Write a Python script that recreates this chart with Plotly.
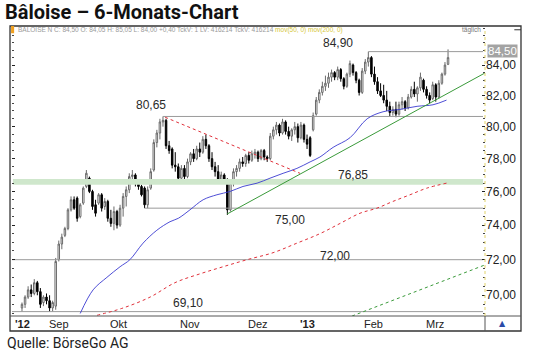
import math
import plotly.graph_objects as go

# ---------------- data ----------------
opens = [69.3, 69.5, 69.9, 70.3, 70.1, 70.7, 70.2, 69.6, 69.9, 69.7,
         69.3, 69.4, 72.0, 72.9, 73.4, 73.8, 74.9, 75.5, 75.6, 74.5,
         75.3, 76.3, 76.8, 76.0, 75.2, 75.3, 75.8, 75.1, 75.4, 74.4,
         74.1, 74.8, 74.0, 75.0, 75.7, 76.1, 76.9, 77.0, 76.5, 76.3,
         76.2, 75.2, 76.2, 77.3, 79.0, 79.6, 80.3, 80.4, 78.8, 78.6,
         77.6, 77.5, 76.8, 77.4, 76.9, 77.8, 78.3, 78.0, 78.6, 78.4,
         79.2, 78.8, 78.0, 77.5, 77.2, 76.7, 77.0, 76.7, 74.9, 76.5,
         77.2, 77.4, 77.8, 77.7, 78.2, 77.9, 78.3, 78.4, 78.0, 78.5,
         78.1, 78.0, 79.4, 79.8, 80.1, 79.6, 80.3, 79.7, 79.4, 79.8,
         80.0, 79.3, 80.1, 79.2, 79.3, 79.8, 80.8, 81.7, 82.2, 82.6,
         82.8, 83.2, 83.5, 83.2, 83.7, 83.1, 82.6, 83.4, 84.0, 83.5,
         83.0, 82.2, 83.6, 84.2, 84.5, 83.4, 82.9, 82.3, 82.0, 81.7,
         81.3, 80.9, 81.1, 80.8, 81.4, 81.6, 81.2, 81.9, 82.4, 82.1,
         82.5, 83.0, 82.4, 82.0, 81.8, 82.7, 81.9, 82.8, 83.4, 84.05]
highs = [69.6, 70.0, 70.5, 70.6, 70.9, 70.8, 70.4, 70.0, 70.1, 70.0,
         69.7, 72.1, 73.1, 73.5, 73.9, 75.0, 75.7, 75.7, 75.7, 75.3,
         76.3, 77.3, 76.9, 76.1, 75.5, 75.9, 75.9, 75.6, 75.5, 74.9,
         75.1, 74.9, 75.2, 75.9, 76.3, 77.1, 77.3, 77.1, 76.7, 76.4,
         76.3, 76.3, 77.4, 79.2, 79.8, 80.5, 80.65, 80.5, 79.1, 78.7,
         78.4, 77.7, 77.6, 77.6, 78.0, 78.4, 78.6, 78.8, 79.0, 79.4,
         79.5, 78.9, 78.4, 77.8, 77.6, 77.2, 77.1, 76.8, 76.7, 77.4,
         77.6, 78.0, 78.1, 78.3, 78.4, 78.5, 78.6, 78.5, 78.6, 78.6,
         78.2, 79.6, 80.0, 80.3, 80.2, 80.5, 80.4, 80.0, 79.9, 80.3,
         80.2, 80.3, 80.2, 79.5, 79.4, 80.9, 81.9, 82.4, 82.9, 83.3,
         83.5, 83.7, 83.6, 83.9, 83.8, 83.2, 83.5, 84.3, 84.1, 83.6,
         83.1, 83.8, 84.4, 84.9, 84.6, 83.9, 83.2, 82.8, 82.7, 82.3,
         81.6, 81.3, 81.6, 81.6, 81.9, 81.7, 82.1, 82.6, 82.9, 82.6,
         83.5, 83.1, 82.6, 82.2, 82.9, 82.8, 83.0, 83.5, 84.2, 85.05]
lows = [69.1, 69.3, 69.8, 69.9, 70.0, 70.0, 69.3, 69.4, 69.5, 69.1,
        69.1, 69.2, 71.9, 72.6, 73.3, 73.7, 74.8, 74.9, 74.2, 74.4,
        75.2, 76.2, 75.9, 74.9, 74.5, 75.2, 74.8, 74.9, 74.2, 73.9,
        73.7, 73.8, 73.9, 74.5, 75.1, 75.9, 76.5, 76.3, 76.1, 75.7,
        75.0, 75.0, 76.1, 77.2, 78.7, 79.2, 80.0, 78.6, 78.3, 77.4,
        77.2, 76.6, 76.5, 76.6, 76.8, 77.6, 77.8, 77.9, 78.1, 78.3,
        78.6, 77.8, 77.3, 76.9, 76.5, 76.5, 76.5, 74.6, 74.8, 76.3,
        76.9, 77.2, 77.5, 77.5, 77.7, 77.8, 78.0, 77.8, 77.9, 77.9,
        77.8, 77.9, 79.2, 79.5, 79.4, 79.5, 79.5, 79.2, 79.1, 79.5,
        79.0, 79.2, 79.0, 78.6, 78.1, 79.7, 80.7, 81.5, 82.0, 82.3,
        82.5, 82.9, 83.0, 83.0, 82.9, 82.4, 82.5, 83.2, 83.3, 82.8,
        82.0, 82.1, 83.4, 83.9, 83.2, 82.7, 82.1, 81.9, 81.5, 81.0,
        80.65, 80.7, 80.6, 80.7, 81.1, 81.0, 81.1, 81.8, 81.9, 81.6,
        82.3, 82.2, 81.8, 81.5, 81.7, 81.6, 81.8, 82.7, 83.3, 84.0]
closes = [69.5, 69.9, 70.3, 70.1, 70.7, 70.2, 69.5, 69.9, 69.7, 69.3,
          69.6, 71.9, 72.9, 73.3, 73.8, 74.9, 75.5, 75.0, 74.4, 75.2,
          76.2, 77.1, 76.0, 75.1, 74.7, 75.8, 75.0, 75.4, 74.4, 74.1,
          74.8, 74.0, 75.0, 75.7, 76.1, 76.9, 77.0, 76.5, 76.3, 75.8,
          75.2, 76.1, 77.2, 79.0, 79.6, 80.3, 80.4, 78.8, 78.5, 77.6,
          77.5, 76.8, 77.4, 76.9, 77.8, 78.3, 78.0, 78.6, 78.4, 79.2,
          78.8, 78.0, 77.5, 77.2, 76.7, 77.0, 76.6, 74.9, 76.5, 77.2,
          77.4, 77.8, 77.7, 78.2, 77.9, 78.3, 78.4, 78.0, 78.5, 78.1,
          78.0, 79.4, 79.8, 80.1, 79.6, 80.3, 79.7, 79.4, 79.8, 80.0,
          79.3, 80.1, 79.2, 78.9, 78.2, 80.7, 81.7, 82.2, 82.6, 82.8,
          83.2, 83.5, 83.2, 83.7, 83.1, 82.6, 83.4, 84.1, 83.5, 83.0,
          82.2, 83.6, 84.2, 84.5, 83.4, 82.9, 82.3, 82.0, 81.7, 81.3,
          80.9, 81.1, 80.8, 81.4, 81.6, 81.2, 81.9, 82.4, 82.1, 82.5,
          83.2, 82.4, 82.0, 81.7, 82.7, 81.9, 82.8, 83.4, 84.0, 84.5]
days = list(range(len(closes)))  # trading-day index (22 Aug 2012 = 0)

ma50_day = [19, 23.2, 27.7, 32, 35.2, 39.5, 44, 48.3, 51, 54.8, 59.1, 63.6, 67.9, 72.1,
            76.7, 80.9, 85.2, 89.7, 94, 97.2, 101.5, 107, 112.6, 117.8, 123.3, 128.9, 134.1, 138.5]
ma50_val = [69.0, 70.3, 71.0, 71.6, 72.0, 72.95, 73.7, 74.2, 74.4, 74.9, 75.5, 75.8, 76.0, 76.3,
            76.5, 76.8, 77.1, 77.4, 77.8, 78.1, 78.7, 79.3, 80.5, 80.95, 81.1, 81.3, 81.4, 81.7]
ma200_day = [24.5, 33, 41.8, 49.9, 58.1, 65.6, 73.4, 81.9, 89.7, 97.2, 103.8, 110.3,
             115.8, 121, 126.6, 132.1, 138.5]
ma200_val = [68.9, 69.3, 69.9, 70.7, 71.2, 71.6, 72.0, 72.4, 72.95, 73.5, 74.1, 74.7,
             75.0, 75.4, 75.8, 76.2, 76.5]

# horizontal levels and where they start
level_vals = [84.90, 80.65, 75.00, 72.00, 69.10]
level_start = [113, 46, 40, -3.3, -3.3]
level_text = ["84,90", "80,65", "75,00", "72,00", "69,10"]
level_label_day = [103, 42, 87.5, 102, 54]
level_label_val = [85.5, 81.4, 74.3, 72.2, 69.6]

band_low, band_high = 76.40, 76.75
band_text, band_label_day, band_label_val = "76,85", 108, 76.97

# trend lines (day, value) pairs
resist_day, resist_val = [46.7, 90.7], [80.6, 77.1]
support_day, support_val = [66.9, 151.0], [74.65, 83.47]
lower_day, lower_val = [107.7, 151.0], [68.86, 71.7]

month_labels = ["'12", "Sep", "Okt", "Nov", "Dez", "'13", "Feb", "Mrz"]
month_start = [-2.9, 8, 28, 51, 73, 90, 111, 131]

y_ticks = [70, 72, 74, 76, 78, 80, 82, 84]
y_ticktext = ["70,00", "72,00", "74,00", "76,00", "78,00", "80,00", "82,00", "84,00"]
last_price, last_text = 84.5, "84,50"

# ---------------- figure ----------------
X0, X1 = -3.26, 151.06
Y0, Y1 = 68.86, 86.64
xr_end = 150.4

fig = go.Figure()

fig.add_trace(go.Scatter(x=[X0 + 0.3, xr_end, xr_end, X0 + 0.3, X0 + 0.3],
                         y=[band_low, band_low, band_high, band_high, band_low],
                         fill="toself", fillcolor="#cfe7cc", mode="lines",
                         line=dict(width=0), hoverinfo="skip"))

for v, s in zip(level_vals, level_start):
    fig.add_trace(go.Scatter(x=[s, xr_end], y=[v, v], mode="lines",
                             line=dict(color="#9a9a9a", width=1), hoverinfo="skip"))

fig.add_trace(go.Scatter(x=ma200_day, y=ma200_val, mode="lines", line_shape="spline",
                         line=dict(color="#e0303a", width=1, dash="dot")))
fig.add_trace(go.Scatter(x=ma50_day, y=ma50_val, mode="lines", line_shape="spline",
                         line=dict(color="#3a3ad0", width=0.9)))
fig.add_trace(go.Scatter(x=resist_day, y=resist_val, mode="lines",
                         line=dict(color="#e0303a", width=1, dash="dot")))
fig.add_trace(go.Scatter(x=support_day, y=support_val, mode="lines",
                         line=dict(color="#3a9a3a", width=1)))
fig.add_trace(go.Scatter(x=lower_day, y=lower_val, mode="lines",
                         line=dict(color="#3a9a3a", width=1, dash="dot")))

fig.add_trace(go.Candlestick(x=days, open=opens, high=highs, low=lows, close=closes,
                             increasing=dict(line=dict(color="#6a6a6a", width=1), fillcolor="#ffffff"),
                             decreasing=dict(line=dict(color="#000000", width=1), fillcolor="#000000"),
                             whiskerwidth=0))

# ---------------- annotations ----------------
ann = []
LF = "Liberation Sans, Arial, sans-serif"
for t, d, v in zip(level_text, level_label_day, level_label_val):
    ann.append(dict(x=d, y=math.log10(v), xref="x", yref="y", text=t, showarrow=False,
                    font=dict(family=LF, size=12, color="#2a2a2a")))
ann.append(dict(x=band_label_day, y=math.log10(band_label_val), xref="x", yref="y",
                text=band_text, showarrow=False, yanchor="middle",
                font=dict(family=LF, size=12, color="#2a2a2a")))

for lab, d in zip(month_labels, month_start):
    txt = "<b>%s</b>" % lab if lab.startswith("'") else lab
    ann.append(dict(x=d, y=-0.026, xref="x", yref="paper", text=txt, showarrow=False,
                    xanchor="left", yanchor="middle",
                    font=dict(family=LF, size=11, color="#222222")))

ann.append(dict(x=1.004, y=math.log10(last_price), xref="paper", yref="y", text=last_text,
                showarrow=False, xanchor="left", yanchor="bottom", bgcolor="#a3a3a3",
                borderpad=0, font=dict(family=LF, size=11.5, color="#ffffff")))

ann.append(dict(x=-0.019, y=1.049, xref="paper", yref="paper",
                text="<b>Bâloise – 6-Monats-Chart</b>", showarrow=False,
                xanchor="left", yanchor="middle",
                font=dict(family="Roboto, sans-serif", size=20, color="#111111")))
ann.append(dict(x=-0.015, y=-0.093, xref="paper", yref="paper",
                text="Quelle: BörseGo AG", showarrow=False, xanchor="left", yanchor="middle",
                font=dict(family="Roboto, sans-serif", size=14, color="#222222")))
ann.append(dict(x=0.0085, y=0.986, xref="paper", yref="paper",
                text=('<span style="color:#9a9a9a">BALOISE N C: 84,50 O: 84,05 H: 85,05 L: 84,00 '
                      '+0,40 TckV: 1 LV: 416214 TckV: 416214</span> '
                      '<span style="color:#d6c83a">mov(50, 0) mov(200, 0)</span>'),
                showarrow=False, xanchor="left", yanchor="middle",
                font=dict(family=LF, size=6.5)))
ann.append(dict(x=0.996, y=0.986, xref="paper", yref="paper", text="täglich",
                showarrow=False, xanchor="right", yanchor="middle",
                font=dict(family=LF, size=6.5, color="#777777")))
ann.append(dict(x=1.038, y=-0.026, xref="paper", yref="paper", text="▲",
                showarrow=False, xanchor="center", yanchor="middle",
                font=dict(family="DejaVu Sans", size=8, color="#2a4aa8")))

# ---------------- frame shapes (paper coords) ----------------
shapes = [
    dict(type="rect", xref="paper", yref="paper", x0=-0.0042, x1=1.0761, y0=-0.0517, y1=1.0,
         line=dict(color="#333333", width=1.3)),
    dict(type="line", xref="paper", yref="paper", x0=-0.0042, x1=1.0761, y0=0, y1=0,
         line=dict(color="#555555", width=1)),
    dict(type="line", xref="paper", yref="paper", x0=1.0, x1=1.0, y0=-0.0517, y1=0,
         line=dict(color="#555555", width=1)),
    dict(type="line", xref="paper", yref="paper", x0=1.0, x1=1.0, y0=0, y1=0.985,
         line=dict(color="#e2d36a", width=1, dash="dot")),
    dict(type="rect", xref="paper", yref="paper", x0=-0.002, x1=0.0045, y0=0.975, y1=1.0,
         line=dict(width=0), fillcolor="#f0a020"),
    dict(type="line", xref="paper", yref="paper", x0=1.062, x1=1.0761, y0=0.987, y1=0.987,
         line=dict(color="#333333", width=1)),
]

minor_vals = [v / 2 for v in range(138, 174)]

fig.update_layout(
    width=540, height=357,
    margin=dict(l=12, r=55, t=26, b=41),
    paper_bgcolor="white", plot_bgcolor="white",
    showlegend=False,
    annotations=ann, shapes=shapes,
    xaxis=dict(range=[X0, X1], showticklabels=False, showgrid=False, zeroline=False,
               showline=False, ticks="", rangeslider=dict(visible=False), fixedrange=True),
    yaxis=dict(type="log", range=[math.log10(Y0), math.log10(Y1)], side="right",
               tickmode="array", tickvals=y_ticks, ticktext=y_ticktext,
               ticks="inside", ticklen=3, tickcolor="#222222", mirror="ticks",
               showgrid=False, zeroline=False, showline=False,
               tickfont=dict(family=LF, size=12, color="#222222"),
               minor=dict(tickmode="array", tickvals=minor_vals, ticks="inside",
                          ticklen=2, tickcolor="#444444", showgrid=False),
               fixedrange=True),
)

fig.write_html("out.html", config={"displayModeBar": False},
               post_script="document.body.style.margin='0';document.body.style.padding='0';")
